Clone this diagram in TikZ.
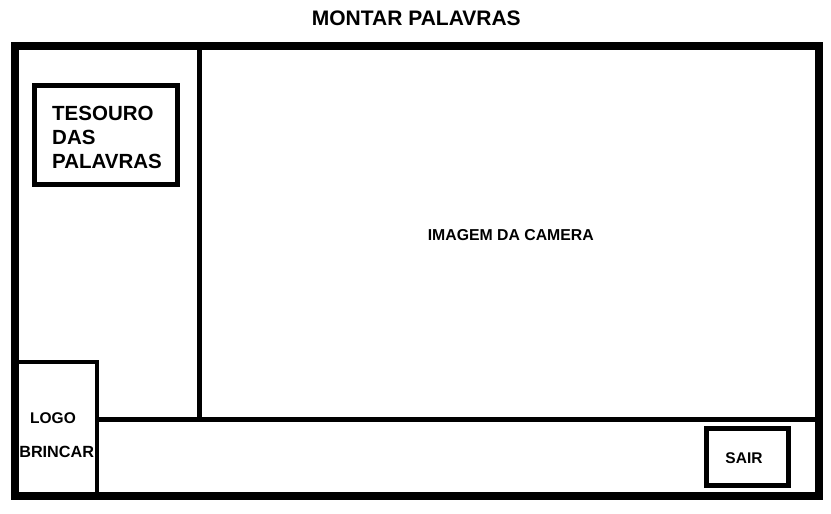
\documentclass[tikz,border=0pt]{standalone}
\usepackage{fontspec}
\setmainfont{Liberation Sans}
\begin{document}
\begin{tikzpicture}[x=1pt,y=-1pt,
  thickline/.style={line width=8pt},
  thinline/.style={line width=4.5pt},
  boxline/.style={draw,line width=5pt,inner sep=0pt,outer sep=0pt},
  titletxt/.style={inner sep=0pt,font=\fontsize{21}{25}\selectfont\bfseries},
  bigtxt/.style={inner sep=0pt,font=\fontsize{20.5}{24}\selectfont\bfseries},
  midtxt/.style={inner sep=0pt,font=\fontsize{15.8}{19}\selectfont\bfseries},
  smalltxt/.style={inner sep=0pt,font=\fontsize{15.5}{19}\selectfont\bfseries}]
\useasboundingbox (0,0) rectangle (831,514);
\fill[white] (0,0) rectangle (831,514);
% title
\node[titletxt,anchor=base] (title) at (416.3,26) {MONTAR PALAVRAS};
% outer frame
\coordinate (tl) at (15,46);
\coordinate (br) at (819,496);
\draw[thickline] (tl) rectangle (br);
% dividers
\coordinate (vtop) at (199.5,46);
\coordinate (vbot) at (199.5,419.5);
\coordinate (hleft) at (97,419.5);
\coordinate (hright) at (819,419.5);
\draw[thinline] (vtop) -- (vbot);
\draw[thinline] (hleft) -- (hright);
% logo box
\coordinate (lgtl) at (15,362);
\coordinate (lgtr) at (97,362);
\coordinate (lgbr) at (97,496);
\draw[thinline] (lgtl) -- (lgtr) -- (lgbr);
% tesouro box
\node[boxline,minimum width=143pt,minimum height=99pt] (tesouro) at (106,135) {};
\node[bigtxt,anchor=base west] (t1) at (52,120.7) {TESOURO};
\node[bigtxt,anchor=base west] (t2) at (52,144.5) {DAS};
\node[bigtxt,anchor=base west] (t3) at (52,168.3) {PALAVRAS};
% camera
\node[midtxt,anchor=base] (cam) at (510.8,240.7) {IMAGEM DA CAMERA};
% logo texts
\node[smalltxt,anchor=base] (logo) at (53,423) {LOGO};
\node[smalltxt,anchor=base,font=\fontsize{16.2}{19}\selectfont\bfseries] (brincar) at (56.7,457) {BRINCAR};
% sair
\node[boxline,minimum width=82pt,minimum height=56.5pt] (sairbox) at (747,456.75) {};
\node[smalltxt,anchor=base] (sair) at (744,463.3) {SAIR};
\end{tikzpicture}
\end{document}
